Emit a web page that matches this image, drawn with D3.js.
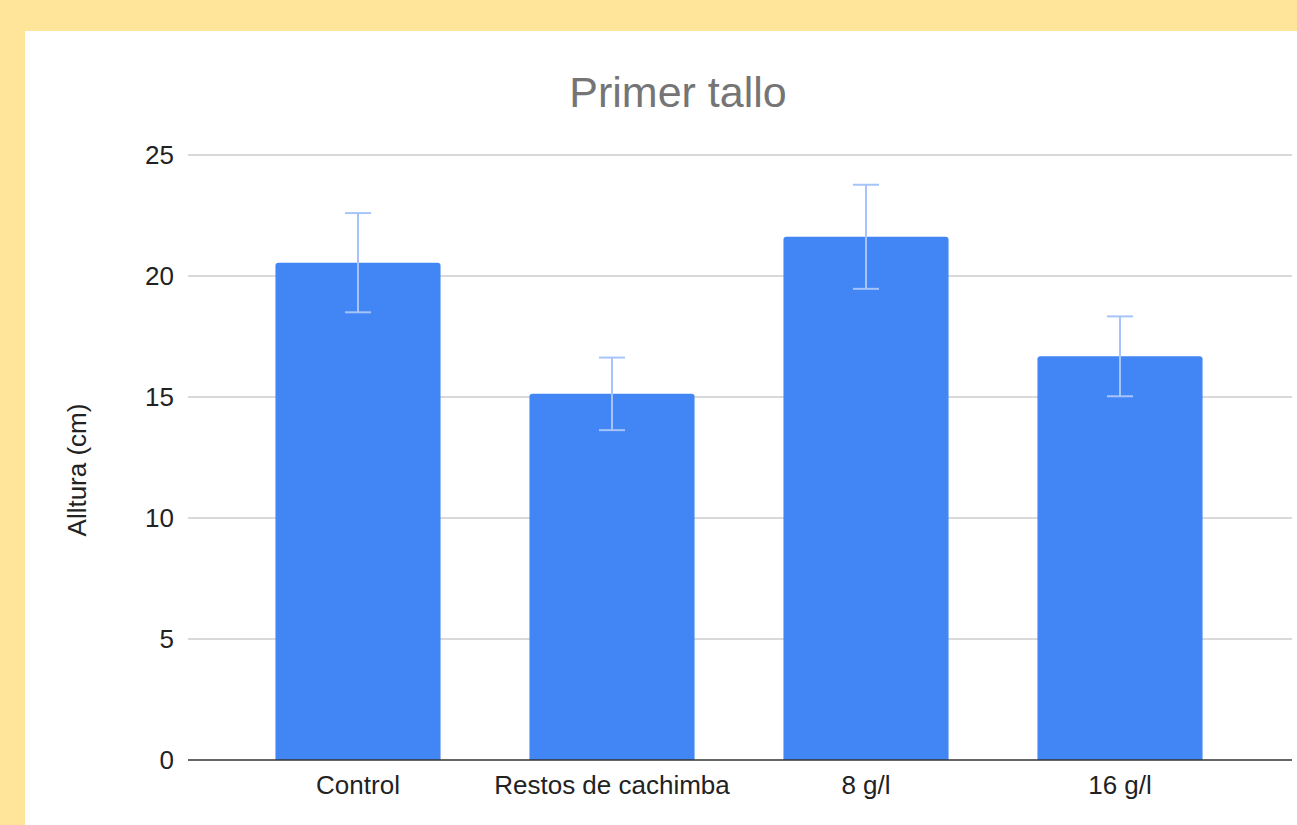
<!DOCTYPE html>
<html>
<head>
<meta charset="utf-8">
<script src="https://cdn.jsdelivr.net/npm/d3@7"></script>
<style>
  body { margin: 0; background: #ffe599; }
  text { font-family: "Liberation Sans", Arial, sans-serif; }
</style>
</head>
<body>
<div id="chart"></div>
<script>
// chart data
const categories = ["Control", "Restos de cachimba", "8 g/l", "16 g/l"];
const values = [20.55, 15.13, 21.62, 16.68];
const errors = [2.05, 1.5, 2.15, 1.65];
const yTicks = [0, 5, 10, 15, 20, 25];

const width = 1297, height = 825;

const svg = d3.select("#chart")
  .append("svg")
  .attr("width", width)
  .attr("height", height);

// yellow frame + white panel
svg.append("rect").attr("width", width).attr("height", height).attr("fill", "#ffe599");
svg.append("rect").attr("x", 25).attr("y", 31).attr("width", width - 25).attr("height", height - 31).attr("fill", "#fff");

let yScale = d3.scaleLinear()
  .domain([0, 25])
  .range([760, 155]);

let xScale = d3.scaleBand()
  .domain(categories)
  .range([231, 1247])
  .paddingInner(0.35)
  .paddingOuter(0.175);

// gridlines
svg.append("g")
  .selectAll("line")
  .data(yTicks.filter(t => t > 0))
  .enter()
  .append("line")
    .attr("x1", 188).attr("x2", 1292)
    .attr("y1", d => yScale(d)).attr("y2", d => yScale(d))
    .attr("stroke", "#cccccc")
    .attr("stroke-width", 1.5);

// y axis labels
const yAxis = svg.append("g")
  .attr("transform", "translate(174,0)")
  .call(d3.axisLeft(yScale).tickValues(yTicks).tickSize(0).tickPadding(0));
yAxis.select(".domain").remove();
yAxis.selectAll("text")
  .attr("font-size", "26px")
  .attr("fill", "#222")
  .attr("font-family", "Liberation Sans, Arial, sans-serif");

// bars with rounded top corners
const r = 3;
svg.selectAll(".bar")
  .data(categories)
  .enter()
  .append("path")
    .attr("class", "bar")
    .attr("fill", "#4285f4")
    .attr("d", (d, i) => {
      const x0 = xScale(d), x1 = x0 + xScale.bandwidth();
      const y0 = yScale(values[i]), yb = yScale(0);
      return `M${x0},${yb} V${y0 + r} Q${x0},${y0} ${x0 + r},${y0} H${x1 - r} Q${x1},${y0} ${x1},${y0 + r} V${yb} Z`;
    });

// error bars
const err = svg.append("g")
  .attr("stroke", "#a6c4fa")
  .attr("stroke-width", 2)
  .attr("fill", "none");
categories.forEach((c, i) => {
  const cx = xScale(c) + xScale.bandwidth() / 2;
  const hi = yScale(values[i] + errors[i]);
  const lo = yScale(values[i] - errors[i]);
  err.append("line").attr("x1", cx).attr("x2", cx).attr("y1", hi).attr("y2", lo);
  err.append("line").attr("x1", cx - 13).attr("x2", cx + 13).attr("y1", hi).attr("y2", hi);
  err.append("line").attr("x1", cx - 13).attr("x2", cx + 13).attr("y1", lo).attr("y2", lo);
});

// baseline
svg.append("line")
  .attr("x1", 188).attr("x2", 1292)
  .attr("y1", yScale(0)).attr("y2", yScale(0))
  .attr("stroke", "#333")
  .attr("stroke-width", 1.5);

// x axis labels
const xAxis = svg.append("g")
  .attr("transform", `translate(0,${yScale(0)})`)
  .call(d3.axisBottom(xScale).tickSize(0).tickPadding(16));
xAxis.select(".domain").remove();
xAxis.selectAll("text")
  .attr("font-size", "26px")
  .attr("fill", "#222")
  .attr("font-family", "Liberation Sans, Arial, sans-serif");

// title
svg.append("text")
  .attr("x", 678).attr("y", 107)
  .attr("text-anchor", "middle")
  .attr("font-size", "43px")
  .attr("fill", "#757575")
  .text("Primer tallo");

// y axis title
svg.append("text")
  .attr("transform", "translate(86,470) rotate(-90)")
  .attr("text-anchor", "middle")
  .attr("font-size", "26px")
  .attr("fill", "#222")
  .text("Alltura (cm)");
</script>
</body>
</html>
